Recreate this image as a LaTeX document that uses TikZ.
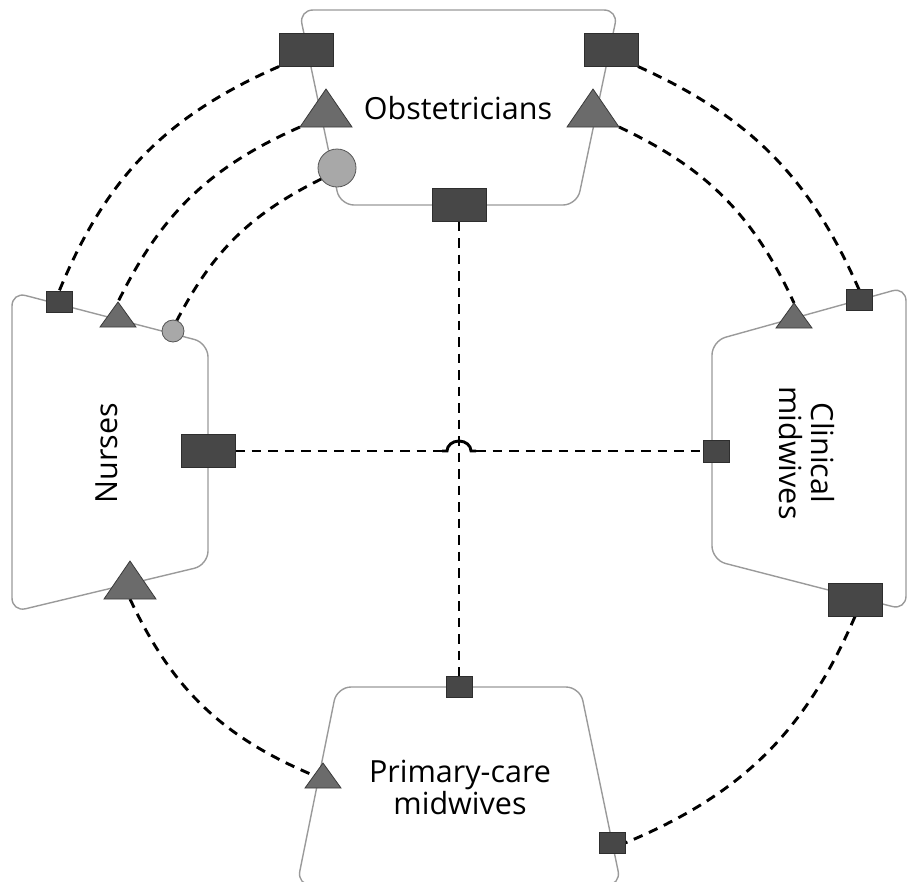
\documentclass[tikz,border=0pt]{standalone}
\usepackage{fontspec}
\setmainfont{Open Sans}
\usetikzlibrary{shapes.geometric,backgrounds}
\definecolor{sqfill}{HTML}{474747}
\definecolor{sqline}{HTML}{2E2E2E}
\definecolor{trifill}{HTML}{6B6B6B}
\definecolor{triline}{HTML}{3A3A3A}
\definecolor{cirfill}{HTML}{A8A8A8}
\definecolor{cirline}{HTML}{555555}
\definecolor{boxline}{HTML}{9A9A9A}
\tikzset{
 sqbig/.style={rectangle, fill=sqfill, draw=sqline, line width=0.8pt, minimum width=54pt, minimum height=33pt, inner sep=0pt, outer sep=0pt},
 sqsmall/.style={sqbig, minimum width=26pt, minimum height=21pt},
 tribig/.style={isosceles triangle, isosceles triangle stretches, shape border rotate=90, fill=trifill, draw=triline, line width=0.8pt, minimum width=52pt, minimum height=38pt, inner sep=0pt, outer sep=0pt, anchor=apex},
 trismall/.style={tribig, minimum width=36pt, minimum height=25pt},
 cir/.style={circle, fill=cirfill, draw=cirline, line width=0.8pt, inner sep=0pt, outer sep=0pt},
 grp/.style={draw=boxline, line width=1.4pt, rounded corners=14pt},
 conn/.style={line width=2.9pt, dash pattern=on 9.5pt off 7pt},
 hopline/.style={line width=2.9pt},
 lbl/.style={font=\fontsize{30.5}{32}\selectfont, align=center, inner sep=0pt},
}
\begin{document}
\begin{tikzpicture}[x=1pt,y=1pt]
\clip (0,0) rectangle (909,-881);
\useasboundingbox (0,0) rectangle (909,-881);
% Obstetricians
\node[sqbig] (obTL) at (306,-50) {};
\node[sqbig] (obTR) at (611,-50) {};
\node[sqbig] (obB) at (459,-205) {};
\node[tribig] (obLT) at (326,-89) {};
\node[tribig] (obRT) at (593,-89) {};
\node[cir, minimum size=38pt] (obC) at (337,-168) {};
\node[lbl] (obTxt) at (458,-108) {Obstetricians};
% Nurses
\node[sqsmall] (nuS) at (59,-302) {};
\node[trismall] (nuT) at (118,-302) {};
\node[cir, minimum size=22pt] (nuC) at (173,-331) {};
\node[sqbig] (nuR) at (208,-451) {};
\node[tribig] (nuB) at (130,-561) {};
\node[lbl, rotate=90] (nuTxt) at (107,-453) {Nurses};
% Clinical midwives
\node[sqsmall] (clS) at (859,-300) {};
\node[trismall] (clT) at (794,-303) {};
\node[sqsmall, minimum height=22pt] (clL) at (716,-451) {};
\node[sqbig] (clB) at (855,-600) {};
\node[lbl, rotate=-90] (clTxt) at (807,-453) {Clinical\\midwives};
% Primary-care midwives
\node[sqsmall] (prS) at (459,-687) {};
\node[trismall] (prT) at (323,-763) {};
\node[sqsmall] (prR) at (612,-843) {};
\node[lbl] (prTxt) at (460,-787) {Primary-care\\midwives};
% hop ends
\coordinate (hopL) at ([xshift=-12pt]nuR.east -| obB.south);
\coordinate (hopR) at ([xshift=12pt]nuR.east -| obB.south);

\begin{pgfonlayer}{background}
\draw[grp] (299,-10) -- (618,-10) -- (577,-205) -- (340,-205) -- cycle;
\draw[grp] (12,-292) -- (208,-343) -- (208,-565) -- (12,-612) -- cycle;
\draw[grp] (712,-341) -- (906,-287) -- (906,-610) -- (712,-560) -- cycle;
\draw[grp] (337,-687) -- (580,-687) -- (621,-885) -- (297,-885) -- cycle;

\draw[conn] (obTL.south west) to[bend right=22] (nuS.north);
\draw[conn] (obLT.left corner) to[bend right=20] (nuT.apex);
\draw[conn] (obC.215) to[bend right=18] (nuC.70);
\draw[conn] (obTR.south east) to[bend left=21] (clS.north);
\draw[conn] (obRT.right corner) to[bend left=20] (clT.apex);
\draw[conn] (obB.south) -- (prS.north);
\draw[conn] (nuR.east) -- ([xshift=-5pt]hopL);
\draw[hopline] ([xshift=-5pt]hopL) -- (hopL) arc[start angle=180, end angle=0, x radius=12pt, y radius=10pt] -- ([xshift=5pt]hopR);
\draw[conn] ([xshift=5pt]hopR) -- (clL.west);
\draw[conn] (nuB.lower side) to[bend right=21] (prT.left side);
\draw[conn] (clB.south) to[bend left=22] (prR.east);
\end{pgfonlayer}
\end{tikzpicture}
\end{document}
